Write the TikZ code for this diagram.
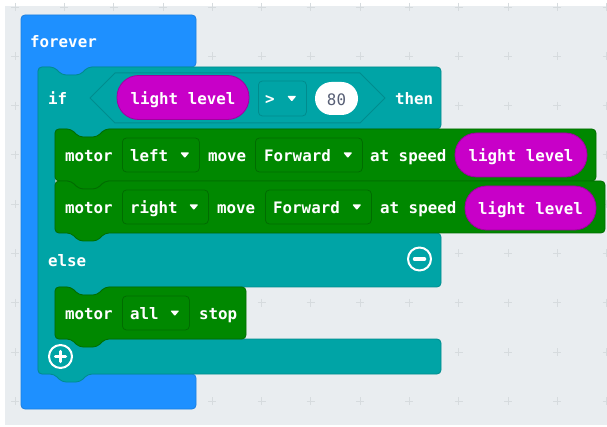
\documentclass[tikz,border=0pt]{standalone}
\usepackage{fontspec}
\newfontfamily\blkfont{DejaVu Sans Mono}
\definecolor{bgc}{HTML}{E9EDF0}
\definecolor{gridc}{HTML}{D6DBDE}
\definecolor{blueblk}{HTML}{1E90FF}
\definecolor{bluebd}{HTML}{1A7FE2}
\definecolor{tealblk}{HTML}{00A4A6}
\definecolor{tealbd}{HTML}{008C8E}
\definecolor{greenblk}{HTML}{008800}
\definecolor{greenbd}{HTML}{006C00}
\definecolor{magblk}{HTML}{C800C8}
\definecolor{magbd}{HTML}{A000A0}
\definecolor{numtxt}{HTML}{575E75}
\newcommand{\stmtblock}[4]{%
  \path[greenB] (#1,{#2+8}) -- (#1,#2) -- ({#1+16},#2) -- ({#1+24},{#2+8}) -- ({#1+42},{#2+8}) -- ({#1+50},#2) -- (#3,#2) -- (#3,#4) -- ({#1+50},#4) -- ({#1+42},{#4+8}) -- ({#1+24},{#4+8}) -- ({#1+16},#4) -- (#1,#4) -- cycle;}
\begin{document}
\begin{tikzpicture}[x=1pt,y=-1pt,line join=round,
  txtfont/.style={font=\blkfont\bfseries\fontsize{15.8}{19}\selectfont},
  txt/.style={txtfont, text=white, inner sep=0pt, text height=14pt, text depth=0.5pt, anchor=west},
  blueB/.style={fill=blueblk, draw=bluebd, line width=0.8pt, rounded corners=4pt},
  tealB/.style={fill=tealblk, draw=tealbd, line width=0.8pt, rounded corners=4pt},
  greenB/.style={fill=greenblk, draw=greenbd, line width=0.8pt, rounded corners=4pt},
  dd/.style={rounded corners=4pt, line width=0.8pt, minimum height=34pt, inner sep=0pt, anchor=west},
  ddgreen/.style={dd, fill=greenblk, draw=greenbd},
  ddteal/.style={dd, fill=tealblk, draw=tealbd},
  pill/.style={txtfont, text=white, fill=magblk, draw=magbd, line width=0.8pt, rounded corners=21.5pt, inner sep=0pt, minimum height=44pt, text height=14pt, text depth=0.5pt},
  oval/.style={font=\blkfont\fontsize{15.8}{19}\selectfont, text=numtxt, fill=white, rounded corners=16.5pt, inner sep=0pt, minimum width=43pt, minimum height=33pt, text height=14pt, text depth=0.5pt},
  ring/.style={circle, draw=white, line width=2pt, minimum size=23pt, inner sep=0pt},
  bar/.style={white, line width=3.5pt, line cap=round}
]
\useasboundingbox (0,0) rectangle (607,427);
\fill[bgc] (5,6) rectangle (607,425);
\foreach \i in {0,...,12}{\foreach \j in {0,...,8}{
  \draw[gridc, line width=0.8pt] ({15+49.3*\i-4},{7+49.3*\j}) -- ++(8,0) ({15+49.3*\i},{7+49.3*\j-4}) -- ++(0,8);}}
% forever block
\path[blueB] (21,30) -- (21,15) -- (196,15) -- (196,67) -- (88,67) -- (80,75) -- (62,75) -- (54,67) -- (38,67) -- (38,374) -- (196,374) -- (196,409) -- (21,409) -- cycle;
\node[txt] (forever) at (30,41) {forever};
% if block
\path[tealB] (38,80) -- (38,67) -- (54,67) -- (62,75) -- (80,75) -- (88,67) -- (441,67) -- (441,129) -- (105,129) -- (97,137) -- (79,137) -- (71,129) -- (55,129) -- (55,233) -- (441,233) -- (441,287) -- (105,287) -- (97,295) -- (79,295) -- (71,287) -- (55,287) -- (55,339) -- (441,339) -- (441,374) -- (88,374) -- (80,382) -- (62,382) -- (54,374) -- (38,374) -- cycle;
\node[txt] (if) at (48,98) {if};
\draw[tealbd, line width=1pt] (90,98) -- (115,73) -- (360,73) -- (385,98) -- (360,123) -- (115,123) -- cycle;
\node[pill, minimum width=132pt] (cond) at (183,97.5) {light level};
\node[ddteal, minimum width=48pt, minimum height=35pt] (cmp) at (258,98.5) {};
\node[txt] (gt) at (265,98) {>};
\fill[white, rounded corners=0.8pt, shift={(cmp.east)}] (-19.5,-2.5) -- (-10.5,-2.5) -- (-15,3) -- cycle;
\node[oval] (n80) at (336.5,98.5) {80};
\node[txt] (then) at (395,98) {then};
% motor left
\stmtblock{55}{129}{596}{181}
\node[txt] (m1) at (65,155) {motor};
\node[ddgreen, minimum width=77pt] (d1) at (122,155) {};
\node[txt] (t1) at (130,155) {left};
\fill[white, rounded corners=0.8pt, shift={(d1.east)}] (-19.5,-2.5) -- (-10.5,-2.5) -- (-15,3) -- cycle;
\node[txt] (mv1) at (208,155) {move};
\node[ddgreen, minimum width=107pt] (f1) at (255,155) {};
\node[txt] (ft1) at (264,155) {Forward};
\fill[white, rounded corners=0.8pt, shift={(f1.east)}] (-19.5,-2.5) -- (-10.5,-2.5) -- (-15,3) -- cycle;
\node[txt] (s1) at (370,155) {at speed};
\node[pill, minimum width=132pt] (l1) at (521,155) {light level};
% motor right
\stmtblock{55}{181}{605}{233}
\node[txt] (m2) at (65,207) {motor};
\node[ddgreen, minimum width=86pt] (d2) at (122,207) {};
\node[txt] (t2) at (130,207) {right};
\fill[white, rounded corners=0.8pt, shift={(d2.east)}] (-19.5,-2.5) -- (-10.5,-2.5) -- (-15,3) -- cycle;
\node[txt] (mv2) at (217,207) {move};
\node[ddgreen, minimum width=106pt] (f2) at (265,207) {};
\node[txt] (ft2) at (273,207) {Forward};
\fill[white, rounded corners=0.8pt, shift={(f2.east)}] (-19.5,-2.5) -- (-10.5,-2.5) -- (-15,3) -- cycle;
\node[txt] (s2) at (380,207) {at speed};
\node[pill, minimum width=131pt] (l2) at (530.5,208) {light level};
% else
\node[txt] (else) at (48,260) {else};
\node[ring] (minus) at (419.5,259) {};
\draw[bar] (minus.center) ++(-5,0) -- ++(10,0);
% stop
\stmtblock{55}{287}{246}{339}
\node[txt] (m3) at (65,313) {motor};
\node[ddgreen, minimum width=67pt] (d3) at (122,313) {};
\node[txt] (t3) at (130,313) {all};
\fill[white, rounded corners=0.8pt, shift={(d3.east)}] (-19.5,-2.5) -- (-10.5,-2.5) -- (-15,3) -- cycle;
\node[txt] (stop) at (199,313) {stop};
% plus
\node[ring] (plus) at (60.5,356.5) {};
\draw[bar] (plus.center) ++(-5,0) -- ++(10,0);
\draw[bar] (plus.center) ++(0,-5) -- ++(0,10);
\end{tikzpicture}
\end{document}
